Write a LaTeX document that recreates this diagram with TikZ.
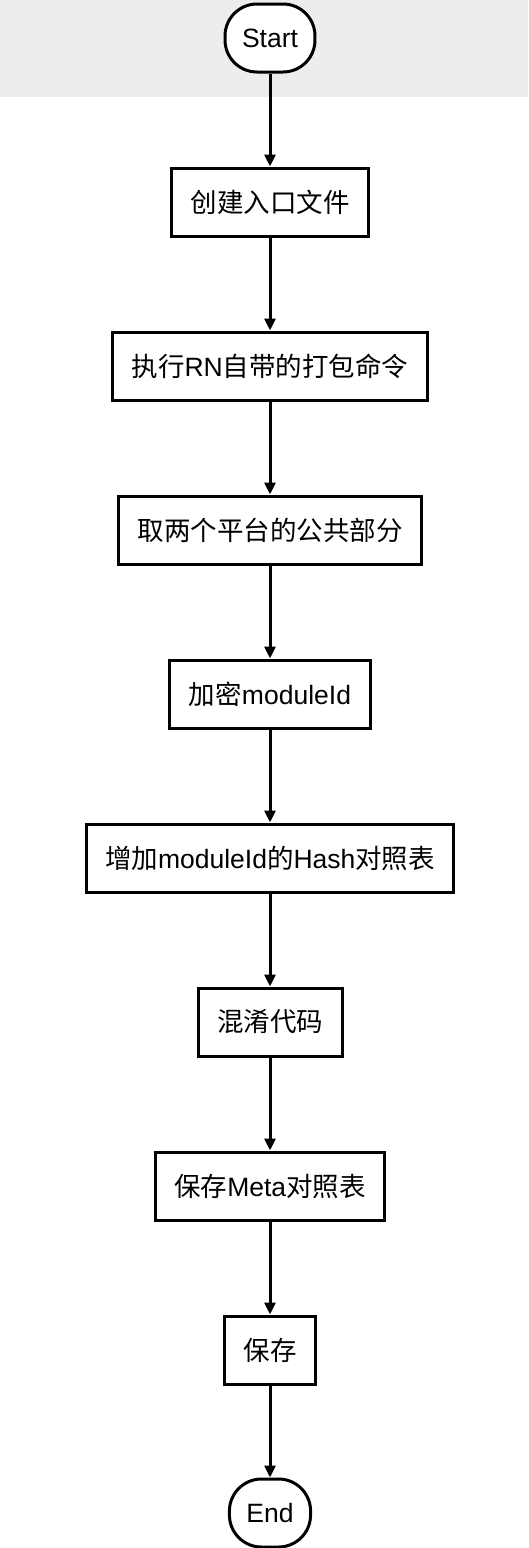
\documentclass[tikz,border=0pt]{standalone}
\usepackage{fontspec}
\setmainfont{Liberation Sans}
\newfontfamily\cjk{Noto Sans CJK SC}
\usetikzlibrary{arrows.meta}
\newcommand{\zh}[1]{{\cjk #1}}
\definecolor{bandgray}{RGB}{237,237,237}
\tikzset{
	stepbox/.style={draw, line width=3pt, fill=white, minimum height=68pt, inner xsep=19pt, font=\fontsize{26.5}{31}\selectfont},
	terminal/.style={stepbox, rounded corners=32pt, inner xsep=17pt},
	flow/.style={line width=3pt, -{Triangle[length=12pt,width=11pt]}}
}

\begin{document}
\begin{tikzpicture}[x=1pt,y=-1pt]
		\useasboundingbox (0,0) rectangle (528,1548);
		\fill[bandgray] (0,0) rectangle (528,97);
		\node[terminal] (n0) at (270,38) {Start};
		\foreach \lbl [count=\i] in {{\zh{创建入口文件}}, {\zh{执行}RN\zh{自带的打包命令}}, {\zh{取两个平台的公共部分}}, {\zh{加密}moduleId}, {\zh{增加}moduleId\zh{的}Hash\zh{对照表}}, {\zh{混淆代码}}, {\zh{保存}Meta\zh{对照表}}, {\zh{保存}}} {
			\node[stepbox] (n\i) at (270,38+164*\i) {\lbl};
		}
		\node[terminal] (n9) at (270,1513) {End};
		\foreach \i in {0,...,8} {
			\pgfmathtruncatemacro\j{\i+1}
			\draw[flow] (n\i) -- (n\j);
		}
	\end{tikzpicture}
\end{document}
